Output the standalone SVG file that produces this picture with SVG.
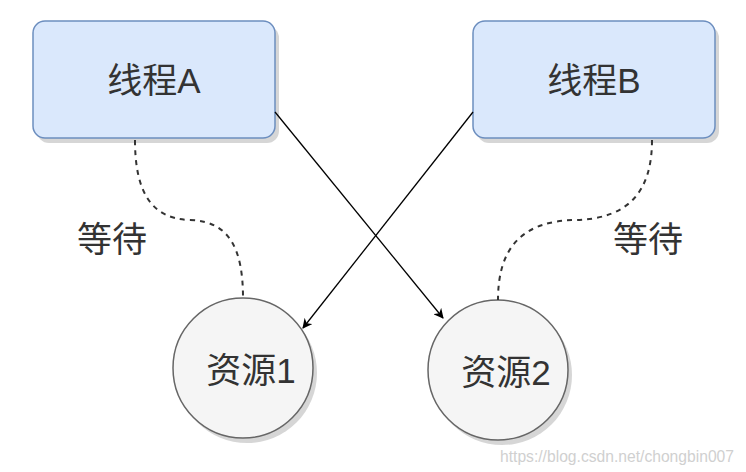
<svg xmlns="http://www.w3.org/2000/svg" width="746" height="472" viewBox="0 0 746 472">
<style>
.box{fill:#dae8fc;stroke:#6c8ebf;stroke-width:1.5}
.res{fill:#f5f5f5;stroke:#666666;stroke-width:1.5}
.shadow{fill:#bbbbbb;opacity:0.6}
.lbl{font-family:"Liberation Sans","Noto Sans CJK SC",sans-serif;font-size:35px;fill:#333333;text-anchor:middle;dominant-baseline:central}
.edge{fill:none;stroke:#000;stroke-width:1.3}
.dash{fill:none;stroke:#333;stroke-width:2;stroke-dasharray:5 5}
.wm{font-family:"Liberation Sans",sans-serif;font-size:16px;fill:#d0d0d0}
</style>
<defs>
<marker id="arr" viewBox="0 0 10 10" refX="9" refY="5" markerWidth="10" markerHeight="10" orient="auto" markerUnits="userSpaceOnUse">
<path d="M0,0 L10,5 L0,10 L3,5 Z" fill="#000"/>
</marker>
</defs>
<g id="threadA">
<rect class="shadow" x="37" y="26" width="242" height="117" rx="12"/>
<rect class="box" x="33" y="21" width="242" height="117" rx="12"/>
<text class="lbl" x="154" y="80">线程A</text>
</g>
<g id="threadB">
<rect class="shadow" x="477" y="26" width="242" height="117" rx="12"/>
<rect class="box" x="473" y="21" width="242" height="117" rx="12"/>
<text class="lbl" x="594" y="80">线程B</text>
</g>
<g id="res1">
<circle class="shadow" cx="247" cy="373" r="70"/>
<circle class="res" cx="243" cy="368" r="70"/>
<text class="lbl" x="251" y="370">资源1</text>
</g>
<g id="res2">
<circle class="shadow" cx="502" cy="375" r="70"/>
<circle class="res" cx="498" cy="370" r="70"/>
<text class="lbl" x="506" y="372">资源2</text>
</g>
<g id="connectors">
<path class="edge" d="M275,112 L443,318" marker-end="url(#arr)"/>
<path class="edge" d="M473,112 L303,328" marker-end="url(#arr)"/>
<path class="dash" d="M135,140 C135,190 150,219 190,220 C230,221 243,250 243,298"/>
<path class="dash" d="M652,140 C652,190 630,219 575,220 C520,221 498,250 498,300"/>
</g>
<text class="lbl" x="112" y="239">等待</text>
<text class="lbl" x="648" y="239">等待</text>
<text class="wm" x="500" y="462" textLength="234" lengthAdjust="spacingAndGlyphs">https://blog.csdn.net/chongbin007</text>
</svg>
